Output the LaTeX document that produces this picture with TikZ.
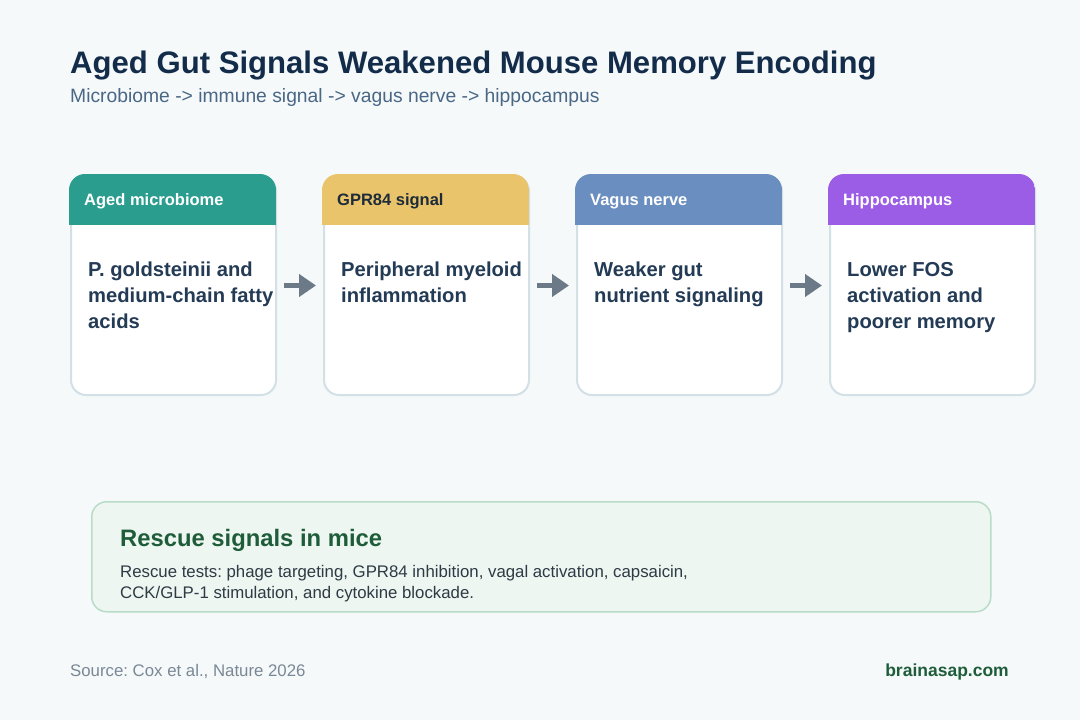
\documentclass[tikz,border=0pt]{standalone}
\usepackage{fontspec}
\setmainfont{Liberation Sans}
\usetikzlibrary{arrows.meta}
\frenchspacing
\definecolor{bg}{HTML}{F5F9FA}
\definecolor{titlec}{HTML}{132C4A}
\definecolor{subc}{HTML}{4A6785}
\definecolor{bodyc}{HTML}{243B55}
\definecolor{cardborder}{HTML}{D3E0E6}
\definecolor{hteal}{HTML}{2A9D8F}
\definecolor{hyellow}{HTML}{E9C46A}
\definecolor{hblue}{HTML}{6A8EBF}
\definecolor{hpurple}{HTML}{9B5DE5}
\definecolor{hdark}{HTML}{1E2B3A}
\definecolor{arrowc}{HTML}{6B7A86}
\definecolor{rescuefill}{HTML}{EDF6F1}
\definecolor{rescueborder}{HTML}{B8DCC7}
\definecolor{rescuetitle}{HTML}{1F5C3A}
\definecolor{rescuetext}{HTML}{2E3A44}
\definecolor{sourcec}{HTML}{7A8896}
\begin{document}
\begin{tikzpicture}[x=1pt,y=-1pt,
  card/.style={draw=cardborder, line width=2pt, fill=white, rounded corners=15pt,
    minimum width=205pt, minimum height=219pt, anchor=north west, inner sep=0pt},
  headtext/.style={anchor=base west, inner sep=0pt, font=\fontsize{16.5}{19}\selectfont\bfseries, text=white},
  bodytext/.style={anchor=north west, inner sep=0pt, align=left, text=bodyc,
    font=\fontsize{20.2}{26}\selectfont\bfseries},
  flow/.style={draw=arrowc, line width=5pt, -{Triangle[length=17pt,width=22pt]},
    shorten <=7pt, shorten >=7pt},
]
\useasboundingbox (0,0) rectangle (1080,720);
\fill[bg] (0,0) rectangle (1080,720);

% title
\node[anchor=base west, inner sep=0pt, text=titlec, font=\fontsize{31.1}{36}\selectfont\bfseries] (title) at (70,73) {Aged Gut Signals Weakened Mouse Memory Encoding};
\node[anchor=base west, inner sep=0pt, text=subc, font=\fontsize{19.3}{22}\selectfont] (subtitle) at (70,102.5) {Microbiome -> immune signal -> vagus nerve -> hippocampus};

% cards
\foreach \i/\x/\col in {1/70/hteal, 2/323/hyellow, 3/576/hblue, 4/829/hpurple}{
  \node[card] (c\i) at (\x,175) {};
  \begin{scope}
    \clip[rounded corners=16pt] (\x-1,174) rectangle (\x+206,400);
    \fill[\col] (\x-1,174) rectangle (\x+206,225);
  \end{scope}
}
\node[headtext] (h1) at (84,205) {Aged microbiome};
\node[headtext, text=hdark] (h2) at (337,205) {GPR84 signal};
\node[headtext] (h3) at (590,205) {Vagus nerve};
\node[headtext] (h4) at (843,205) {Hippocampus};

\node[bodytext] (t1) at (88,262) {P. goldsteinii and\\medium-chain fatty\\acids};
\node[bodytext] (t2) at (341,262) {Peripheral myeloid\\inflammation};
\node[bodytext] (t3) at (594,262) {Weaker gut\\nutrient signaling};
\node[bodytext] (t4) at (847,262) {Lower FOS\\activation and\\poorer memory};

\draw[flow] (c1.east) -- (c2.west);
\draw[flow] (c2.east) -- (c3.west);
\draw[flow] (c3.east) -- (c4.west);

% rescue box
\node[draw=rescueborder, line width=1.5pt, fill=rescuefill, rounded corners=15pt,
  minimum width=899pt, minimum height=110pt, anchor=north west, inner sep=0pt] (rescue) at (91,501) {};
\node[anchor=base west, inner sep=0pt, text=rescuetitle, font=\fontsize{23.8}{28}\selectfont\bfseries] (rtitle) at (120,546.5) {Rescue signals in mice};
\node[anchor=north west, inner sep=0pt, align=left, text=rescuetext, font=\fontsize{16.8}{21.5}\selectfont] (rbody) at (120,565) {Rescue tests: phage targeting, GPR84 inhibition, vagal activation, capsaicin,\\CCK/GLP-1 stimulation, and cytokine blockade.};

% footer
\node[anchor=base west, inner sep=0pt, text=sourcec, font=\fontsize{16.8}{19}\selectfont] (source) at (70,676) {Source: Cox et al., Nature 2026};
\node[anchor=base east, inner sep=0pt, text=rescuetitle, font=\fontsize{17.5}{20}\selectfont\bfseries] (brand) at (1009,676.5) {brainasap.com};
\end{tikzpicture}
\end{document}
